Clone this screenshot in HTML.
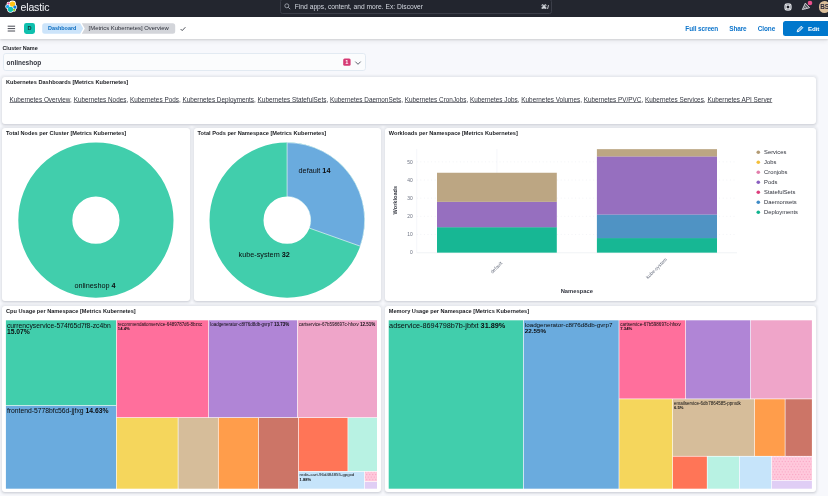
<!DOCTYPE html>
<html lang="en">
<head>
<meta charset="utf-8">
<title>[Metrics Kubernetes] Overview - Elastic</title>
<style>
*{box-sizing:border-box;margin:0;padding:0}
html,body{width:828px;height:496px;overflow:hidden}
body{background:#f7f8fc;font-family:"Liberation Sans",sans-serif;color:#1a1c21;position:relative}
.abs{position:absolute}
.topbar{left:0;top:0;width:828px;height:17px;background:#22242c}
.bar2{left:0;top:17px;width:828px;height:21.5px;background:#fff;box-shadow:0 1px 2px rgba(0,0,0,.13),0 2.5px 5px rgba(0,0,0,.06)}
.brand{left:20.5px;top:0;height:17px;line-height:15.2px;font-size:10.5px;color:#f2f3f6;letter-spacing:-.14px;white-space:nowrap}
.search{left:280px;top:-1px;width:272px;height:15px;border:1px solid #3b3e49;border-radius:2.5px;background:#22252e}
.search span{position:absolute;left:13.8px;top:0;line-height:14.4px;font-size:6.69px;color:#d4d8e0;white-space:nowrap}
.kbd{left:541.3px;top:0;line-height:15.2px;font-size:5.6px;color:#e6e9ee;font-weight:bold;white-space:nowrap;position:absolute}
.dbadge{left:24px;top:23px;width:11px;height:11px;border-radius:2.4px;background:#0fc0ae;color:#16323a;font-size:5.6px;font-weight:bold;text-align:center;line-height:11px}
.bc{top:23px;height:10.8px;line-height:11.6px;font-size:5.7px;font-weight:bold;white-space:nowrap}
.toplink{top:18px;height:21.5px;line-height:22.6px;font-size:6.45px;font-weight:bold;color:#0c74cb;white-space:nowrap;letter-spacing:-.1px}
.editbtn{left:782.6px;top:21.3px;width:50px;height:14.4px;border-radius:2.5px;background:#0077cc}
.editbtn span{position:absolute;left:25.3px;top:0;line-height:16.2px;font-size:6.2px;font-weight:bold;color:#fff;letter-spacing:-.1px}
.lbl{left:2.4px;top:43.5px;line-height:8px;font-size:5.49px;font-weight:bold;color:#1a1c21;white-space:nowrap}
.select{left:2.6px;top:53.1px;width:363.3px;height:18.2px;border-radius:2.8px;background:#fbfcfd;border:.6px solid #e2eaf2}
.select .v{position:absolute;left:2.9px;top:0;line-height:18.2px;font-size:6.5px;font-weight:bold;color:#343741;white-space:nowrap}
.nbadge{left:343.2px;top:58.5px;width:7.4px;height:7.2px;border-radius:1.5px;background:#d63a74;color:#fff;font-size:5.6px;font-weight:bold;text-align:center;line-height:7.6px}
.panel{background:#fff;border-radius:3px;box-shadow:0 0 2px 1.2px rgba(20,30,60,.055),0 .5px 1.4px rgba(20,30,60,.07),0 1.4px 3.4px rgba(20,30,60,.05)}
.ptitle{position:absolute;left:4px;top:.8px;line-height:8px;font-size:5.62px;font-weight:bold;color:#1a1c21;white-space:nowrap}
.links{position:absolute;left:7.5px;top:18px;line-height:9px;font-size:6.38px;color:#343741;white-space:nowrap}
.links u{text-decoration-thickness:.5px;text-underline-offset:.45px;text-decoration-color:rgba(52,55,65,.62);text-decoration-skip-ink:none}
.tm{position:absolute}
.tl{position:absolute;white-space:nowrap;color:#0b0c0e}
.tl.s br+b{font-size:.92em;letter-spacing:.06px}
svg text{font-family:"Liberation Sans",sans-serif}
</style>
</head>
<body>
<div id="root" style="position:absolute;left:0;top:0;width:828px;height:496px;will-change:transform;overflow:hidden">

<!-- ===== top dark bar ===== -->
<svg class="abs" style="left:0;top:0" width="828" height="19" viewBox="0 0 828 19"><rect x="0" y="0" width="828" height="17.4" fill="#23262f"/></svg>
<svg class="abs" style="left:4px;top:0" width="16" height="15" viewBox="0 0 16 15">
  <g stroke="#fff" stroke-width="1.1">
    <circle cx="8.5" cy="4" r="2.9" fill="#fec514"/>
    <circle cx="4.5" cy="3.5" r="1.3" fill="#f04e98"/>
    <circle cx="3.6" cy="6.6" r="1.8" fill="#1ba9f5"/>
    <circle cx="10.9" cy="7.1" r="1.8" fill="#0b7fe0"/>
    <circle cx="10.1" cy="9.8" r="1.3" fill="#93c90e"/>
    <circle cx="6.5" cy="9.3" r="2.8" fill="#0fc5b6"/>
  </g>
  <g>
    <circle cx="8.5" cy="4" r="2.6" fill="#fec514"/>
    <circle cx="4.5" cy="3.5" r="1.1" fill="#f04e98"/>
    <circle cx="3.6" cy="6.6" r="1.6" fill="#1ba9f5"/>
    <circle cx="10.9" cy="7.1" r="1.6" fill="#0b7fe0"/>
    <circle cx="10.1" cy="9.8" r="1.1" fill="#93c90e"/>
    <circle cx="6.5" cy="9.3" r="2.6" fill="#0fc5b6"/>
  </g>
</svg>
<div class="abs brand">elastic</div>

<div class="abs search">
  <svg class="abs" style="left:2.6px;top:3.2px" width="7" height="7" viewBox="0 0 7 7"><circle cx="2.8" cy="2.8" r="2" fill="none" stroke="#c9ced8" stroke-width=".65"/><path d="M4.3 4.3 L6.2 6.2" stroke="#c9ced8" stroke-width=".7"/></svg>
  <span>Find apps, content, and more. Ex: Discover</span>
</div>
<div class="kbd">&#8984;/</div>

<svg class="abs" style="left:783px;top:1.8px" width="10" height="10" viewBox="0 0 10 10"><circle cx="5" cy="5" r="3.95" fill="#adb0b7"/><path d="M2.2 2.2L7.8 7.8M7.8 2.2L2.2 7.8" stroke="#e9eaed" stroke-width="1.1"/><circle cx="5" cy="5" r="2.1" fill="#c4c6cc"/><circle cx="5" cy="5" r="1.25" fill="#1c1e25"/></svg>
<svg class="abs" style="left:800px;top:0" width="14" height="14" viewBox="0 0 14 14"><path d="M2.3 9.6 L5.3 3.1 L9.600000000000001 7.7 Z" fill="rgba(240,242,246,.28)" stroke="#e4e6ea" stroke-width=".8" stroke-linejoin="round"/><path d="M4.3 5.6 L7.300000000000001 8.3M3.5 7.4 L5.2 9" stroke="#e4e6ea" stroke-width=".6"/><circle cx="10" cy="3" r="2.3" fill="#ea4f8b"/></svg>
<div class="abs" style="left:818.8px;top:1.2px;width:11.4px;height:11.4px;border-radius:50%;background:#dcbf9a;color:#2b2a3c;font-size:6.4px;font-weight:bold;line-height:11.8px;text-align:left;padding-left:1.5px;letter-spacing:-.2px;overflow:hidden;white-space:nowrap">BS</div>

<!-- ===== second bar ===== -->
<div class="abs bar2"></div>
<svg class="abs" style="left:7px;top:24px" width="9" height="9" viewBox="0 0 9 9"><path d="M.7 2.2h7.4M.7 4.600000000000001h7.4M.7 7h7.4" stroke="#343741" stroke-width=".9"/></svg>
<div class="abs dbadge">D</div>
<svg class="abs" style="left:41.8px;top:23px" width="134" height="11" viewBox="0 0 134 11">
  <path d="M2.7 .3 H38.2 L41.2 5.55 L38.2 10.8 H2.7 A2.5 2.5 0 0 1 .2 8.3 V2.8 A2.5 2.5 0 0 1 2.7 .3 Z" fill="#cce4fa"/>
  <path d="M39.8 .3 H130.7 A2.5 2.5 0 0 1 133.2 2.8 V8.3 A2.5 2.5 0 0 1 130.7 10.8 H39.8 L42.8 5.55 Z" fill="#d3d5da"/>
</svg>
<div class="abs bc" style="left:48px;color:#0a6cc0;font-size:5.45px">Dashboard</div>
<div class="abs bc" style="left:88.6px;color:#2c2f39;font-weight:normal;font-size:5.9px">[Metrics Kubernetes] Overview</div>
<svg class="abs" style="left:179px;top:25px" width="8" height="8" viewBox="0 0 8 8"><path d="M1.6 4 L3.2 5.6 L6.4 2.2" fill="none" stroke="#343741" stroke-width=".85"/></svg>

<div class="abs toplink" style="left:685.3px">Full screen</div>
<div class="abs toplink" style="left:729.2px">Share</div>
<div class="abs toplink" style="left:757.8px">Clone</div>
<div class="abs editbtn">
  <svg class="abs" style="left:13px;top:3.4px" width="8" height="8" viewBox="0 0 8 8"><path d="M1.2 6.8 L1.6 4.9 L5.3 1.2 L6.8 2.7 L3.1 6.4 Z" fill="rgba(255,255,255,.45)" stroke="#fff" stroke-width=".9" stroke-linejoin="round"/></svg>
  <span>Edit</span>
</div>

<!-- ===== control ===== -->
<div class="abs lbl">Cluster Name</div>
<div class="abs select"><div class="v">onlineshop</div></div>
<svg class="abs" style="left:340px;top:56px" width="14" height="12" viewBox="340 56 14 12"><rect x="343.2" y="58.5" width="7.4" height="7.2" rx="1.5" fill="#d63a74"/><text x="346.9" y="64.1" font-size="5.6" font-weight="bold" fill="#fff" text-anchor="middle">1</text></svg>
<svg class="abs" style="left:353.5px;top:58.5px" width="8" height="8" viewBox="0 0 8 8"><path d="M1.3 2.6 L4 5.3 L6.7 2.6" fill="none" stroke="#4a4f5c" stroke-width=".9"/></svg>

<!-- ===== links panel ===== -->
<div class="abs panel" style="left:2px;top:76.5px;width:814px;height:47px">
  <div class="ptitle" style="top:1.6px">Kubernetes Dashboards [Metrics Kubernetes]</div>
  <div class="links"><u>Kubernetes Overview</u>, <u>Kubernetes Nodes</u>, <u>Kubernetes Pods</u>, <u>Kubernetes Deployments</u>, <u>Kubernetes StatefulSets</u>, <u>Kubernetes DaemonSets</u>, <u>Kubernetes CronJobs</u>, <u>Kubernetes Jobs</u>, <u>Kubernetes Volumes</u>, <u>Kubernetes PV/PVC</u>, <u>Kubernetes Services</u>, <u>Kubernetes API Server</u></div>
</div>

<!-- ===== donut 1 ===== -->
<div class="abs panel" style="left:2px;top:127.8px;width:187.5px;height:173.2px">
  <div class="ptitle">Total Nodes per Cluster [Metrics Kubernetes]</div>
</div>
<svg class="abs" style="left:0;top:124px" width="400" height="180" viewBox="0 124 400 180">
  <circle cx="95.9" cy="220.2" r="50.6" fill="none" stroke="#41ceac" stroke-width="54"/>
  <text x="95" y="287.8" font-size="7.25" text-anchor="middle" fill="#0b0c0e">onlineshop <tspan font-weight="bold">4</tspan></text>
</svg>

<!-- ===== donut 2 ===== -->
<div class="abs panel" style="left:193.6px;top:127.8px;width:187.3px;height:173.2px">
  <div class="ptitle">Total Pods per Namespace [Metrics Kubernetes]</div>
</div>
<svg class="abs" style="left:190px;top:124px" width="200" height="180" viewBox="190 124 200 180">
  <circle cx="287.1" cy="220.2" r="50.6" fill="none" stroke="#41ceac" stroke-width="54"/>
  <!-- blue slice 0deg..109.57deg -->
  <path d="M287.1 142.6 A77.6 77.6 0 0 1 360.22 246.19 L309.34 228.11 A23.6 23.6 0 0 0 287.1 196.6 Z" fill="#6aabde" stroke="#fff" stroke-width=".6"/>
  <text x="314.5" y="173" font-size="7.25" text-anchor="middle" fill="#0b0c0e">default <tspan font-weight="bold">14</tspan></text>
  <text x="264.2" y="257" font-size="7.25" text-anchor="middle" fill="#0b0c0e">kube-system <tspan font-weight="bold">32</tspan></text>
</svg>

<!-- ===== bar chart ===== -->
<div class="abs panel" style="left:384.8px;top:127.8px;width:431px;height:173.2px">
  <div class="ptitle">Workloads per Namespace [Metrics Kubernetes]</div>
</div>
<svg class="abs" style="left:384px;top:124px" width="440" height="180" viewBox="384 124 440 180">
  <g transform="translate(0 .45)">
  <g stroke="#e6e9ef" stroke-width=".5" stroke-dasharray="1 2.6">
    <path d="M416.7 234H737M416.7 215.85H737M416.7 197.7H737M416.7 179.55H737M416.7 161.4H737"/>
  </g>
  <g stroke="#eceff4" stroke-width=".5">
    <path d="M416.7 148.5V252.2M496.9 148.5V252.2M656.9 148.5V252.2"/>
    <path d="M416.7 252.3H737" stroke="#e3e6ec"/>
  </g>
  <!-- bar 1 -->
  <rect x="437" y="226.7" width="119.8" height="25.5" fill="#17b794"/>
  <rect x="437" y="201.3" width="119.8" height="25.5" fill="#966fbf"/>
  <rect x="437" y="172.3" width="119.8" height="29.1" fill="#bca683"/>
  <!-- bar 2 -->
  <rect x="596.9" y="237.6" width="120.1" height="14.6" fill="#17b794"/>
  <rect x="596.9" y="214" width="120.1" height="23.7" fill="#4f93c4"/>
  <rect x="596.9" y="155.9" width="120.1" height="58.2" fill="#966fbf"/>
  <rect x="596.9" y="148.7" width="120.1" height="7.3" fill="#bca683"/>
  </g>
  <g font-size="4.9" fill="#6b7180" text-anchor="end">
    <text x="412.7" y="254.3">0</text><text x="412.7" y="236.1">10</text><text x="412.7" y="218">20</text>
    <text x="412.7" y="199.8">30</text><text x="412.7" y="181.7">40</text><text x="412.7" y="163.5">50</text>
  </g>
  <text transform="translate(397 200.2) rotate(-90)" font-size="5.6" font-weight="bold" fill="#343741" text-anchor="middle">Workloads</text>
  <text transform="translate(502.6 263.6) rotate(-45)" font-size="4.8" fill="#6b7180" text-anchor="end">default</text>
  <text transform="translate(667.4 259.8) rotate(-45)" font-size="4.85" fill="#6b7180" text-anchor="end">kube-system</text>
  <text x="576.8" y="293.2" font-size="5.8" font-weight="bold" fill="#343741" text-anchor="middle">Namespace</text>
  <!-- legend -->
  <g>
    <circle cx="758.3" cy="152.3" r="1.8" fill="#b39b74"/><circle cx="758.3" cy="162.3" r="1.8" fill="#f4c03a"/>
    <circle cx="758.3" cy="172.3" r="1.8" fill="#e27fac"/><circle cx="758.3" cy="182.3" r="1.8" fill="#8a5fc0"/>
    <circle cx="758.3" cy="192.3" r="1.8" fill="#dd3f7d"/><circle cx="758.3" cy="202.3" r="1.8" fill="#3f8bc6"/>
    <circle cx="758.3" cy="212.3" r="1.8" fill="#10b48f"/>
  </g>
  <g font-size="5.8" fill="#2d303a" transform="translate(0 .3)">
    <text x="764.1" y="154.2">Services</text><text x="764.1" y="164.2">Jobs</text><text x="764.1" y="174.2">Cronjobs</text>
    <text x="764.1" y="184.2">Pods</text><text x="764.1" y="194.2">StatefulSets</text><text x="764.1" y="204.2">Daemonsets</text>
    <text x="764.1" y="214.2">Deployments</text>
  </g>
</svg>

<!-- ===== CPU + Memory treemaps ===== -->
<div class="abs panel" style="left:2px;top:305.6px;width:379px;height:186.1px">
  <div class="ptitle" style="top:1.2px">Cpu Usage per Namespace [Metrics Kubernetes]</div>
</div>
<div class="abs panel" style="left:384.8px;top:305.6px;width:431px;height:186.1px">
  <div class="ptitle" style="top:1.2px">Memory Usage per Namespace [Metrics Kubernetes]</div>
</div>
<svg class="abs" style="left:0;top:316px" width="828" height="180" viewBox="0 316 828 180">
  <defs><pattern id="dots" width="3" height="5.2" patternUnits="userSpaceOnUse"><rect width="3" height="5.2" fill="#ffc9dc"/><circle cx=".75" cy="1.3" r=".6" fill="#f9a3c4"/><circle cx="2.25" cy="3.9" r=".6" fill="#f9a3c4"/></pattern></defs>
  <!-- cpu -->
  <rect x="5.90" y="320.30" width="110.17" height="84.97" fill="#41ceac"/>
  <rect x="5.90" y="405.93" width="110.17" height="82.77" fill="#6aabde"/>
  <rect x="116.73" y="320.30" width="91.54" height="96.97" fill="#ff6f9c"/>
  <rect x="208.93" y="320.30" width="88.14" height="96.97" fill="#b085d6"/>
  <rect x="297.73" y="320.30" width="79.27" height="96.97" fill="#efa5c9"/>
  <rect x="116.73" y="417.93" width="61.04" height="70.77" fill="#f5d65c"/>
  <rect x="178.43" y="417.93" width="39.54" height="70.77" fill="#d6bd9a"/>
  <rect x="218.63" y="417.93" width="39.54" height="70.77" fill="#ff9d4b"/>
  <rect x="258.83" y="417.93" width="39.24" height="70.77" fill="#cc7567"/>
  <rect x="298.73" y="417.93" width="48.84" height="53.14" fill="#ff7557"/>
  <rect x="348.23" y="417.93" width="28.77" height="53.14" fill="#b8f2e3"/>
  <rect x="298.73" y="471.73" width="65.44" height="16.97" fill="#c6e4fa"/>
  <rect x="364.83" y="471.73" width="12.17" height="9.54" fill="url(#dots)"/>
  <rect x="364.83" y="481.93" width="12.17" height="6.77" fill="#e0cef5"/>
  <!-- memory -->
  <rect x="388.70" y="320.30" width="134.37" height="168.40" fill="#41ceac"/>
  <rect x="523.73" y="320.30" width="94.94" height="168.40" fill="#6aabde"/>
  <rect x="619.33" y="320.30" width="65.94" height="78.27" fill="#ff6f9c"/>
  <rect x="685.93" y="320.30" width="64.34" height="78.27" fill="#b085d6"/>
  <rect x="750.93" y="320.30" width="60.97" height="78.27" fill="#efa5c9"/>
  <rect x="619.33" y="399.23" width="52.94" height="89.47" fill="#f5d65c"/>
  <rect x="672.93" y="399.23" width="81.19" height="56.69" fill="#d6bd9a"/>
  <rect x="754.78" y="399.23" width="29.99" height="56.69" fill="#ff9d4b"/>
  <rect x="785.43" y="399.23" width="26.47" height="56.69" fill="#cc7567"/>
  <rect x="672.93" y="456.58" width="33.94" height="32.12" fill="#ff7557"/>
  <rect x="707.53" y="456.58" width="31.49" height="32.12" fill="#b8f2e3"/>
  <rect x="739.68" y="456.58" width="31.49" height="32.12" fill="#c6e4fa"/>
  <rect x="771.83" y="456.58" width="40.07" height="23.54" fill="url(#dots)"/>
  <rect x="771.83" y="480.78" width="40.07" height="7.92" fill="#e0cef5"/>
</svg>
<div class="tl" style="left:6.9px;top:322.7px;font-size:6.78px;line-height:6.6px">currencyservice-574f65d7f8-zc4bn<br><b>15.07%</b></div>
<div class="tl" style="left:6.9px;top:407.7px;font-size:6.77px;line-height:6.3px">frontend-5778bfc56d-jjfxg <b>14.63%</b></div>
<div class="tl s" style="left:117.8px;top:322.9px;font-size:4.49px;line-height:4.35px">recommendationservice-6489787d6-8bzxc<br><b>14.4%</b></div>
<div class="tl s" style="left:210.2px;top:322.9px;font-size:4.49px;line-height:4.35px">loadgenerator-c8f76d8db-gvrp7 <b>13.73%</b></div>
<div class="tl s" style="left:298.7px;top:322.9px;font-size:4.51px;line-height:4.35px">cartservice-67b598697c-hfsxv <b>12.51%</b></div>
<div class="tl s" style="left:299.5px;top:473.2px;font-size:4.37px;line-height:4.6px">redis-cart-96d484855-gpgxd<br><b>1.88%</b></div>
<div class="tl" style="left:389.1px;top:322.9px;font-size:7.26px;line-height:6.8px">adservice-8694798b7b-jbfxt <b>31.89%</b></div>
<div class="tl" style="left:524.8px;top:322.2px;font-size:6.26px;line-height:6.3px">loadgenerator-c8f76d8db-gvrp7<br><b>22.55%</b></div>
<div class="tl s" style="left:620.2px;top:322.9px;font-size:4.56px;line-height:4.35px">cartservice-67b598697c-hfsxv<br><b>7.34%</b></div>
<div class="tl s" style="left:673.9px;top:401.7px;font-size:4.54px;line-height:4.35px">emailservice-6db7864585-ppmdk<br><b>6.5%</b></div>

</div>
</body>
</html>
